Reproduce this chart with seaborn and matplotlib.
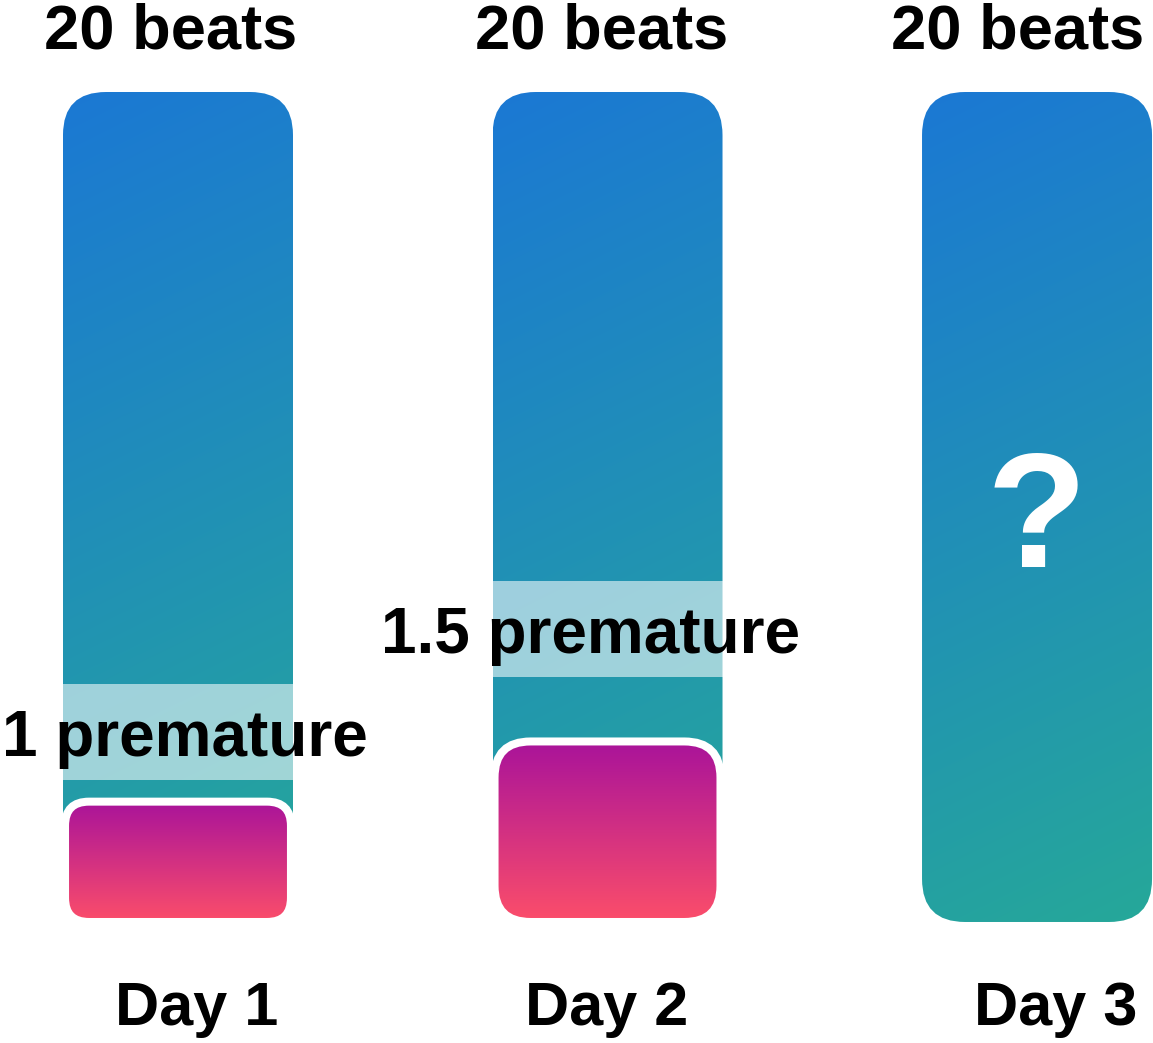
import numpy as np
import pandas as pd
import matplotlib
matplotlib.use("Agg")
import matplotlib.pyplot as plt
import seaborn as sns
from matplotlib.patches import FancyBboxPatch, Rectangle

# ---- data -------------------------------------------------------------
days = ["Day 1", "Day 2", "Day 3"]
total_beats = [20, 20, 20]
premature_beats = [1.0, 1.5, np.nan]
top_labels = ["20 beats", "20 beats", "20 beats"]
premature_labels = ["1 premature", "1.5 premature", ""]
unknown_mark = "?"

# ---- layout / style ---------------------------------------------------
W_PX, H_PX, DPI = 1153, 1043, 100
XLIM = (-0.4144, 2.2700)
YLIM = (-2.916, 22.217)
PREM_SCALE = 2.9          # bar height (in beats) drawn per premature beat
BAR_W = 0.5355
PINK_W = 0.526
BAR_RADIUS_PX = 43
BAND_H = 2.31             # height of the label highlight band, in beats
band_centers = [4.58, 7.06]
top_dx = [-7, -6, -19]
prem_dx = [7, -17]
day_dx = [19, -1, 19]

BLUE_TOP = np.array([27, 120, 212]) / 255
TEAL_BOTTOM = np.array([38, 168, 153]) / 255
PURPLE_TOP = np.array([169, 19, 154]) / 255
PINK_BOTTOM = np.array([252, 78, 106]) / 255

sns.set_theme(style="white")
plt.rcParams["font.family"] = ["Liberation Sans", "DejaVu Sans"]

fig = plt.figure(figsize=(W_PX / DPI, H_PX / DPI), dpi=DPI)
ax = fig.add_axes([0, 0, 1, 1])
ax.set_facecolor("white")

df = pd.DataFrame({"day": days, "beats": total_beats, "premature": premature_beats})

# bars laid out by seaborn; their geometry is reused for the styled shapes
sns.barplot(data=df, x="day", y="beats", order=days, width=BAR_W, ax=ax)
ax2 = ax.twinx()
sns.barplot(data=df.dropna(), x="day", y="premature", order=days, width=PINK_W, ax=ax2)

ax.set_xlim(*XLIM)
ax.set_ylim(*YLIM)
ax2.set_ylim(YLIM[0] / PREM_SCALE, YLIM[1] / PREM_SCALE)

px_x = W_PX / (XLIM[1] - XLIM[0])
px_y = H_PX / (YLIM[1] - YLIM[0])
px_y2 = px_y * PREM_SCALE


def rounded_gradient(axis, x0, w, h, radius_px, top, bottom, tilt, py,
                     edgecolor="none", lw=0.0, z=2):
    box = FancyBboxPatch((x0, 0), w, h,
                         boxstyle=f"round,pad=0,rounding_size={radius_px / px_x}",
                         mutation_aspect=px_x / py,
                         facecolor="none", edgecolor=edgecolor, linewidth=lw,
                         zorder=z + 1)
    axis.add_patch(box)
    rows, cols = 400, 120
    v = np.linspace(0, 1, rows)[:, None]
    u = np.linspace(0, 1, cols)[None, :]
    t = np.clip((1 - tilt) * v + tilt * u, 0, 1)
    img = top + (bottom - top) * t[..., None]
    im = axis.imshow(img, extent=(x0, x0 + w, 0, h), origin="upper",
                     aspect="auto", interpolation="bilinear", zorder=z)
    im.set_clip_path(box)
    return box


main_bars = list(ax.patches)
main_geom = [(p.get_x(), p.get_width(), p.get_height()) for p in main_bars]
for p in main_bars:
    p.remove()

pink_bars = [p for p in ax2.patches if np.isfinite(p.get_height()) and p.get_height() > 0]
pink_geom = [(p.get_x(), p.get_width(), p.get_height()) for p in pink_bars]
for p in list(ax2.patches):
    p.remove()

for (x0, w, h) in main_geom:
    rounded_gradient(ax, x0, w, h, BAR_RADIUS_PX, BLUE_TOP, TEAL_BOTTOM, 0.12, px_y)

for (x0, w, h) in pink_geom:
    r_px = 0.2 * h * px_y2
    rounded_gradient(ax2, x0, w, h, r_px, PURPLE_TOP, PINK_BOTTOM, 0.0, px_y2,
                     edgecolor="white", lw=8 * 72 / DPI, z=2)

# premature label bands and labels
for i, (label, c) in enumerate(zip(premature_labels[:2], band_centers)):
    x0, w, _ = main_geom[i]
    ax.add_patch(Rectangle((x0, c - BAND_H / 2), w, BAND_H, facecolor="white",
                           alpha=0.57, edgecolor="none", zorder=5))
    ax.text(i + prem_dx[i] / px_x, c - 24 / px_y, label, ha="center", va="baseline",
            fontsize=46, fontweight="bold", color="black", zorder=6)

# totals above each bar and day names below
for i, (lab, tot) in enumerate(zip(top_labels, total_beats)):
    ax.text(i + top_dx[i] / px_x, tot + 1.06, lab, ha="center", va="baseline",
            fontsize=45.5, fontweight="bold", color="black")
for i, d in enumerate(days):
    ax.text(i + day_dx[i] / px_x, -2.48, d, ha="center", va="baseline",
            fontsize=44, fontweight="bold", color="black")

# unknown third day
ax.text(2, total_beats[2] / 2 - 1.45, unknown_mark, ha="center", va="baseline",
        fontsize=118, fontweight="heavy", color="white", zorder=6)

ax.set_xlim(*XLIM)
ax.set_ylim(*YLIM)
ax2.set_ylim(YLIM[0] / PREM_SCALE, YLIM[1] / PREM_SCALE)
ax.axis("off")
ax2.axis("off")

fig.savefig("out.png", dpi=DPI, facecolor="white")
